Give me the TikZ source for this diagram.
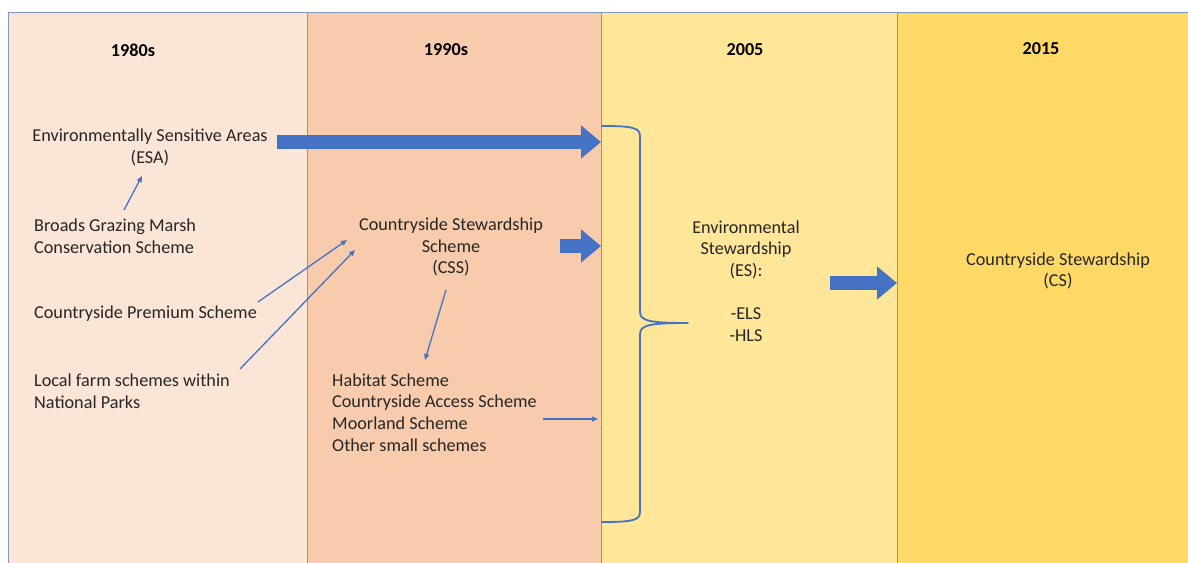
\documentclass[tikz,border=0pt]{standalone}
\usepackage{fontspec}
\setmainfont{Carlito}
\usetikzlibrary{arrows.meta}
\definecolor{colA}{HTML}{FBE5D6}
\definecolor{colB}{HTML}{F8CBAD}
\definecolor{colC}{HTML}{FFE699}
\definecolor{colD}{HTML}{FFD966}
\definecolor{edgeblue}{HTML}{7F97C4}
\definecolor{arrblue}{HTML}{4472C4}
\begin{document}
\begin{tikzpicture}[x=1pt,y=-1pt,
  txt/.style={inner sep=0pt, font=\fontsize{18.2}{21.7}\selectfont, text=black!85},
  hdr/.style={inner sep=0pt, font=\fontsize{18.2}{21.7}\selectfont\bfseries, text=black},
  thinarrow/.style={draw=arrblue, line width=1.3pt, -{Triangle[length=6pt,width=5pt]}},
  bigarrow/.style={draw=arrblue, line width=14pt, -{Triangle[length=20pt,width=32pt]}},
  colbox/.style={draw=edgeblue, line width=0.9pt}]
\useasboundingbox (0,0) rectangle (1188,562);
\fill[white] (0,0) rectangle (1188,562);
% columns
\filldraw[colbox, fill=colA] (8,12) rectangle (307,575);
\filldraw[colbox, fill=colB] (307,12) rectangle (601,575);
\filldraw[colbox, fill=colC] (601,12) rectangle (897,575);
\filldraw[colbox, fill=colD] (897,12) rectangle (1195,575);
% headers
\node[hdr] (h1) at (133,50) {1980s};
\node[hdr] (h2) at (446,50) {1990s};
\node[hdr] (h3) at (745,50) {2005};
\node[hdr] (h4) at (1041,49) {2015};
% texts
\node[txt, align=center] (esa) at (150,147.5) {Environmentally Sensitive Areas\\(ESA)};
\node[txt, align=left, anchor=west] (bgm) at (34,236.5) {Broads Grazing Marsh\\Conservation Scheme};
\node[txt, anchor=west] (cps) at (34,314) {Countryside Premium Scheme};
\node[txt, align=left, anchor=west] (lfs) at (34,391) {Local farm schemes within\\National Parks};
\node[txt, align=center] (css) at (451,247) {Countryside Stewardship\\Scheme\\(CSS)};
\node[txt, align=left, anchor=west] (hab) at (332,412.5) {Habitat Scheme\\Countryside Access Scheme\\Moorland Scheme\\Other small schemes};
\node[txt, align=center] (es) at (746,281) {Environmental\\Stewardship\\(ES):\\\mbox{}\\-ELS\\-HLS};
\node[txt, align=center] (cs) at (1058,271) {Countryside Stewardship\\(CS)};
% coordinates for connector ends
\coordinate (esaTail) at (277,142);
\coordinate (esaHead) at (601,142);
\coordinate (cssTail) at (560,246);
\coordinate (cssHead) at (601,246);
\coordinate (esTail) at (830,283);
\coordinate (esHead) at (897,283);
\coordinate (bgmOut) at (124,210);
\coordinate (esaIn) at (142,176);
\coordinate (cpsOut) at (258,302);
\coordinate (cssInA) at (347,240);
\coordinate (lfsOut) at (240,369);
\coordinate (cssInB) at (355,250);
\coordinate (cssOut) at (446,290);
\coordinate (habIn) at (425,360);
\coordinate (habOut) at (543,419);
\coordinate (braceIn) at (598,419);
% big arrows
\draw[bigarrow] (esaTail) -- (esaHead);
\draw[bigarrow] (cssTail) -- (cssHead);
\draw[bigarrow] (esTail) -- (esHead);
% thin arrows
\draw[thinarrow] (bgmOut) -- (esaIn);
\draw[thinarrow] (cpsOut) -- (cssInA);
\draw[thinarrow] (lfsOut) -- (cssInB);
\draw[thinarrow] (cssOut) -- (habIn);
\draw[thinarrow] (habOut) -- (braceIn);
% brace
\draw[arrblue, line width=1.8pt, line join=round]
  (601,126) .. controls (630,126) and (640,127) .. (640,136) -- (640,312)
  .. controls (640,321) and (650,323) .. (688,323)
  .. controls (650,323) and (640,325) .. (640,334) -- (640,512)
  .. controls (640,521) and (630,522) .. (601,522);
\end{tikzpicture}
\end{document}
